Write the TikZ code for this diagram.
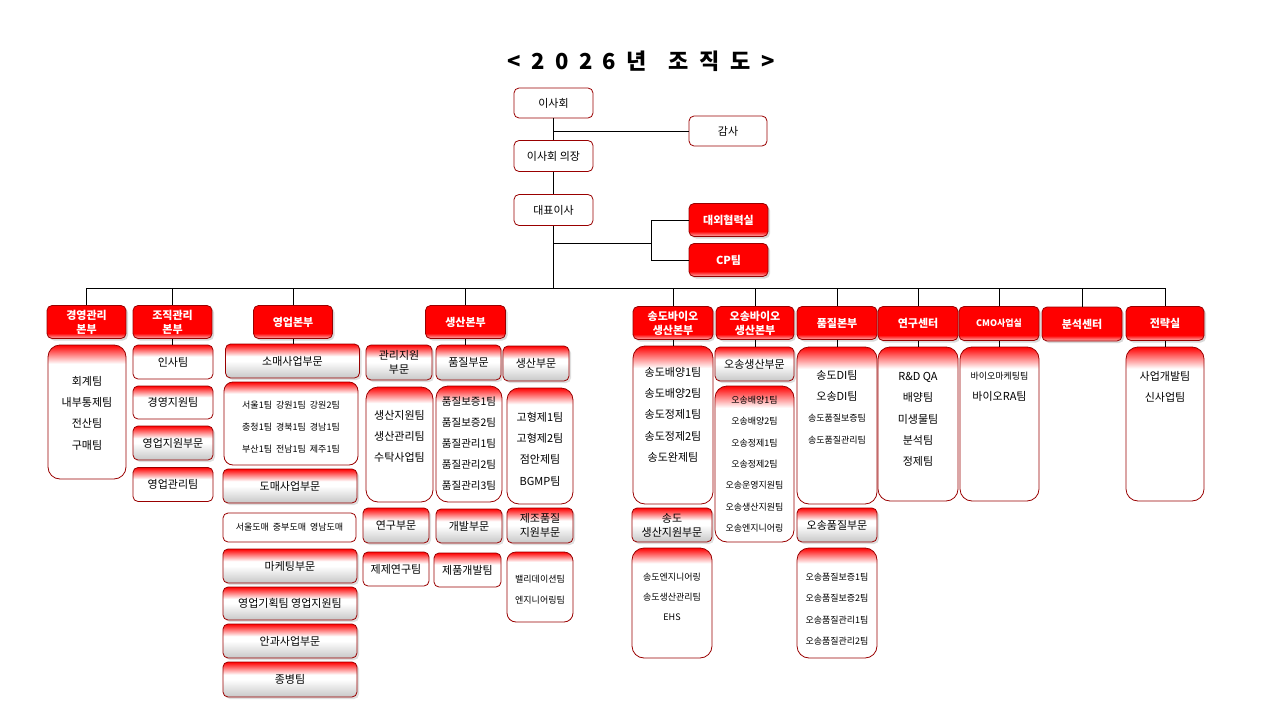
\documentclass[tikz,border=0pt]{standalone}
\usepackage{fontspec}
\setmainfont{Noto Sans CJK KR}
\usetikzlibrary{shadows}

\pgfdeclareverticalshading{headshade}{100bp}{color(0bp)=(red!30!white); color(25bp)=(red!30!white); color(33bp)=(red); color(100bp)=(red)}
\pgfdeclareverticalshading{subshade}{100bp}{color(0bp)=(black!22); color(25bp)=(black!22); color(50bp)=(white); color(57bp)=(white); color(75bp)=(red); color(100bp)=(red)}
\pgfdeclareverticalshading{teamshade}{100bp}{color(0bp)=(white); color(58bp)=(white); color(75bp)=(red); color(100bp)=(red)}
\pgfdeclareverticalshading{listshade}{100bp}{color(0bp)=(white); color(68bp)=(white); color(75bp)=(red); color(100bp)=(red)}

\begin{document}
\begin{tikzpicture}[
    x=1pt, y=-1pt,
    wh/.style 2 args={minimum width=#1pt, minimum height=#2pt},
    box/.style={rectangle, draw=red!60!black, line width=0.8pt, rounded corners=5pt,
                align=center, inner sep=1pt, font=\fontsize{11}{14}\selectfont},
    plain/.style={box, fill=white},
    head/.style={box, shade, shading=headshade, text=white, font=\fontsize{11}{14}\bfseries,
                 drop shadow={opacity=0.3, shadow xshift=2pt, shadow yshift=-2pt}},
    sub/.style={box, shade, shading=subshade,
                drop shadow={opacity=0.25, shadow xshift=2pt, shadow yshift=-2pt}},
    team/.style={box, shade, shading=teamshade},
    list/.style={box, shade, shading=listshade, rounded corners=12pt},
    items/.style={anchor=north, inner sep=0pt, align=center, font=\fontsize{11}{21.3}\selectfont},
    smitems/.style={items, font=\fontsize{9}{21.3}\selectfont},
    link/.style={line width=1pt}
]
    \useasboundingbox (0,0) rectangle (1280,720);

    \node[font=\fontsize{22}{26}\bfseries] (title) at (641,61)
        {<\hspace{10.5pt}2\hspace{10.5pt}0\hspace{10.5pt}2\hspace{10.5pt}6\hspace{10.5pt}년\hspace{21pt}조\hspace{11pt}직\hspace{11pt}도\hspace{10.5pt}>};

    % top
    \node[plain, wh={79}{30}] (board)  at (553.5,103) {이사회};
    \node[plain, wh={78}{30}] (audit)  at (728,131)   {감사};
    \node[plain, wh={79}{31}] (chair)  at (553.5,156) {이사회 의장};
    \node[plain, wh={79}{31}] (ceo)    at (553.5,210) {대표이사};
    \node[head, wh={79}{33}]  (extrel) at (728.5,220) {대외협력실};
    \node[head, wh={79}{33}]  (cp)     at (728.5,260) {CP팀};

    % headquarters
    \node[head, wh={79}{33}] (mgmt)    at (86.5,322)  {경영관리\\본부};
    \node[head, wh={79}{33}] (org)     at (172.5,322) {조직관리\\본부};
    \node[head, wh={79}{33}] (sales)   at (293,322)   {영업본부};
    \node[head, wh={80}{33}] (prod)    at (465.5,322) {생산본부};
    \node[head, wh={80}{33}] (songdo)  at (673,323)   {송도바이오\\생산본부};
    \node[head, wh={78}{33}] (osong)   at (755,323)   {오송바이오\\생산본부};
    \node[head, wh={80}{33}] (quality) at (837,323)   {품질본부};
    \node[head, wh={80}{34}] (rnd)     at (918,323.5) {연구센터};
    \node[head, wh={80}{34}, font=\fontsize{9}{12}\bfseries] (cmo) at (999,323.5) {CMO사업실};
    \node[head, wh={80}{34}] (anal)    at (1082,324)  {분석센터};
    \node[head, wh={78}{34}] (strat)   at (1165,323.5) {전략실};

    % 경영관리본부
    \node[list, wh={78}{134}] (mgmtL) at (87,412) {};
    \node[items] (mgmtT) at (87,376) {회계팀\\내부통제팀\\전산팀\\구매팀};

    % 조직관리본부
    \node[team, wh={80}{34}] (insa)   at (173,362)   {인사팀};
    \node[team, wh={80}{33}] (hrsup)  at (173,402.5) {경영지원팀};
    \node[sub,  wh={80}{34}] (slsup)  at (173,443)   {영업지원부문};
    \node[team, wh={80}{34}] (slmgmt) at (173,484.5) {영업관리팀};

    % 영업본부
    \node[sub,  wh={134}{34}] (retail) at (292.5,361) {소매사업부문};
    \node[list, wh={134}{83}, rounded corners=9pt] (retailL) at (291,423.5) {};
    \node[smitems, font=\fontsize{9}{22}\selectfont] (retailT) at (291,401)
        {서울1팀 \ 강원1팀 \ 강원2팀\\충청1팀 \ 경북1팀 \ 경남1팀\\부산1팀 \ 전남1팀 \ 제주1팀};
    \node[sub,   wh={134}{34}] (whole)  at (290,486)   {도매사업부문};
    \node[plain, wh={133}{29}, font=\fontsize{9}{12}\selectfont] (wholeT) at (289.5,527.5) {서울도매 \ 중부도매 \ 영남도매};
    \node[sub,   wh={134}{34}] (mkt)    at (290,566)   {마케팅부문};
    \node[sub,   wh={134}{33}] (mktT)   at (290,603.5) {영업기획팀 영업지원팀};
    \node[sub,   wh={134}{34}] (eye)    at (290,641)   {안과사업부문};
    \node[sub,   wh={134}{35}] (hosp)   at (290,679.5) {종병팀};

    % 생산본부
    \node[sub, wh={66}{35}] (admin) at (399,362.5) {관리지원\\부문};
    \node[sub, wh={65}{35}] (qual)  at (468.5,362.5) {품질부문};
    \node[sub, wh={66}{35}] (mfg)   at (536,363.5) {생산부문};
    \node[list, wh={67}{115}] (adminL) at (399.5,444.5) {};
    \node[items] (adminT) at (399.5,410) {생산지원팀\\생산관리팀\\수탁사업팀};
    \node[list, wh={66}{116}] (qualL) at (469,444) {};
    \node[items, font=\fontsize{10.5}{20.8}\selectfont] (qualT) at (469,397)
        {품질보증1팀\\품질보증2팀\\품질관리1팀\\품질관리2팀\\품질관리3팀};
    \node[list, wh={66}{116}] (mfgL) at (540,446) {};
    \node[items] (mfgT) at (540,412) {고형제1팀\\고형제2팀\\점안제팀\\BGMP팀};
    \node[sub,  wh={66}{35}] (research) at (396,525.5) {연구부문};
    \node[sub,  wh={66}{34}] (dev)      at (469,526)   {개발부문};
    \node[sub,  wh={66}{35}] (mqs)      at (540,525.5) {제조품질\\지원부문};
    \node[team, wh={66}{34}] (formT)    at (396,569)   {제제연구팀};
    \node[team, wh={67}{34}] (devT)     at (467.5,570) {제품개발팀};
    \node[list, wh={66}{70}, rounded corners=9pt] (valL) at (540,587) {};
    \node[smitems] (valT) at (540,575) {밸리데이션팀\\엔지니어링팀};

    % 송도바이오생산본부
    \node[list, wh={80}{158}] (sdL) at (673,425) {};
    \node[items] (sdT) at (673,367) {송도배양1팀\\송도배양2팀\\송도정제1팀\\송도정제2팀\\송도완제팀};
    \node[sub, wh={80}{34}] (sdsup) at (672,525) {송도\\생산지원부문};
    \node[list, wh={80}{110}] (sdL2) at (672,603) {};
    \node[smitems, font=\fontsize{9}{20}\selectfont] (sdT2) at (672,573) {송도엔지니어링\\송도생산관리팀\\EHS};

    % 오송바이오생산본부
    \node[sub, wh={79}{34}] (osprod) at (754.5,364) {오송생산부문};
    \node[list, wh={79}{156}] (osL) at (754.5,464) {};
    \node[smitems] (osT) at (754.5,396)
        {오송배양1팀\\오송배양2팀\\오송정제1팀\\오송정제2팀\\오송운영지원팀\\오송생산지원팀\\오송엔지니어링};

    % 품질본부
    \node[list, wh={80}{157}] (qL) at (837,425.5) {};
    \node[items] (qT) at (837,370)
        {송도DI팀\\오송DI팀\\{\fontsize{9}{12}\selectfont 송도품질보증팀}\\{\fontsize{9}{12}\selectfont 송도품질관리팀}};
    \node[sub, wh={80}{34}] (osq) at (837,525) {오송품질부문};
    \node[list, wh={80}{110}] (osqL) at (837,603) {};
    \node[smitems] (osqT) at (837,573) {오송품질보증1팀\\오송품질보증2팀\\오송품질관리1팀\\오송품질관리2팀};

    % 연구센터, CMO사업실, 전략실
    \node[list, wh={80}{154}] (rL) at (918,424) {};
    \node[items] (rT) at (918,372) {R\&D QA\\배양팀\\미생물팀\\분석팀\\정제팀};
    \node[list, wh={79}{154}] (cL) at (999.5,424) {};
    \node[items] (cT) at (999.5,372) {{\fontsize{9}{12}\selectfont 바이오마케팅팀}\\바이오RA팀};
    \node[list, wh={78}{154}] (sL) at (1165,424) {};
    \node[items] (sT) at (1165,371) {사업개발팀\\신사업팀};

    % connectors
    \coordinate (bus)  at (553.5,288);
    \coordinate (fork) at (651,243);
    \draw[link] (board) -- (chair);
    \draw[link] (board |- audit) -- (audit);
    \draw[link] (chair) -- (ceo);
    \draw[link] (ceo) -- (bus);
    \draw[link] (ceo |- fork) -- (fork);
    \draw[link] (extrel) -| (fork);
    \draw[link] (cp) -| (fork);
    \draw[link] (mgmt |- bus) -- (strat |- bus);
    \foreach \h in {mgmt,org,sales,prod,songdo,osong,quality,rnd,cmo,anal,strat}
        \draw[link] (\h |- bus) -- (\h);
    \foreach \h/\c in {org/insa,sales/retail,prod/qual,songdo/sdL,osong/osprod,
                       quality/qL,rnd/rL,cmo/cL,strat/sL}
        \draw[link] (\h) -- (\h |- \c.north);
\end{tikzpicture}
\end{document}
